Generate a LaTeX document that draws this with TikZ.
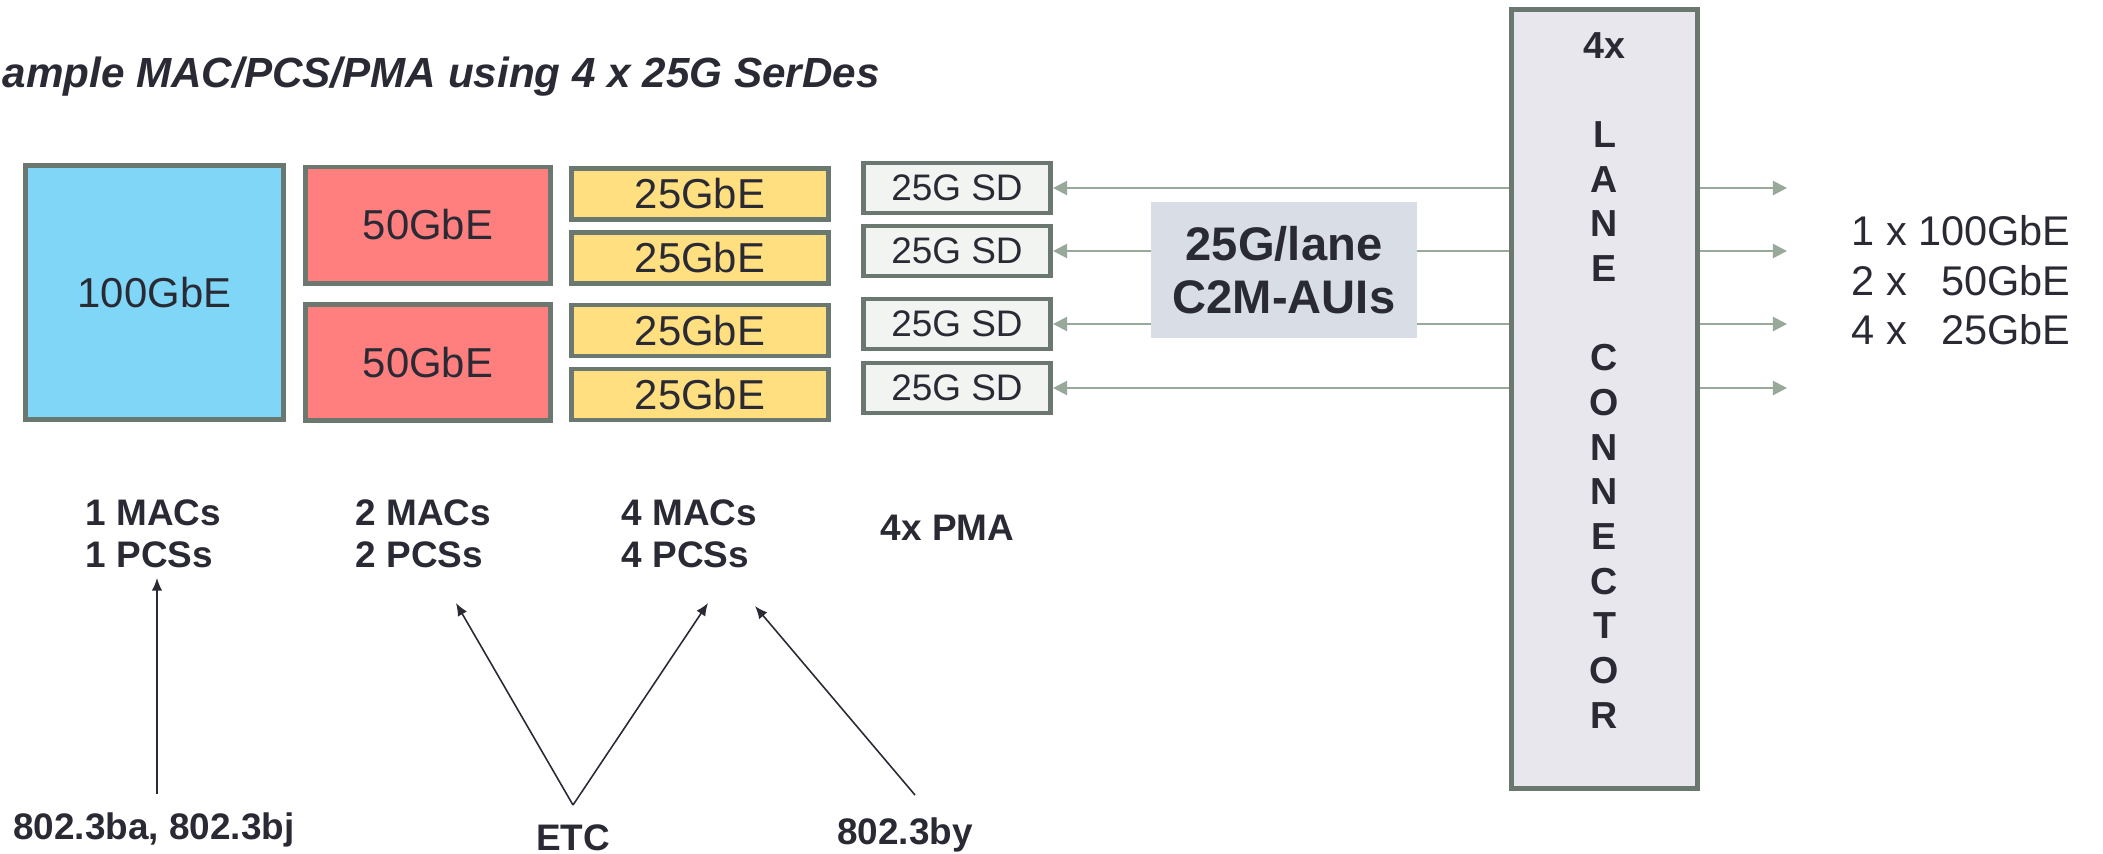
\documentclass[tikz,border=0pt]{standalone}
\usepackage{fontspec}
\setmainfont{Liberation Sans}
\usetikzlibrary{arrows.meta}

\definecolor{edgegray}{HTML}{6B786F}
\definecolor{inkdark}{HTML}{2A2A35}
\definecolor{macblue}{HTML}{80D6F7}
\definecolor{macred}{HTML}{FF7F7E}
\definecolor{macyellow}{HTML}{FFDF80}
\definecolor{sdwhite}{HTML}{F2F4F2}
\definecolor{connfill}{HTML}{E8E7ED}
\definecolor{auifill}{HTML}{D9DDE5}
\definecolor{lanegray}{HTML}{98A99C}

\begin{document}
\begin{tikzpicture}[x=0.01cm, y=-0.01cm,
  block/.style={draw=edgegray, line width=1.4pt, inner sep=0pt, text=inkdark, font=\fontsize{11.9}{14}\selectfont},
  fullmac/.style={block, fill=macblue, minimum width=2.58cm, minimum height=2.54cm},
  halfmac/.style={block, fill=macred, minimum width=2.45cm, minimum height=1.16cm},
  quartermac/.style={block, fill=macyellow, minimum width=2.57cm, minimum height=0.51cm},
  serdes/.style={block, fill=sdwhite, minimum width=1.87cm, minimum height=0.50cm, font=\fontsize{10.5}{12}\selectfont},
  connbox/.style={block, fill=connfill, minimum width=1.86cm, minimum height=7.79cm},
  auibox/.style={fill=auifill, inner sep=0pt, minimum width=2.66cm, minimum height=1.36cm, align=center, text=inkdark, font=\fontsize{13.4}{15}\selectfont\bfseries},
  lane/.style={draw=lanegray, line width=0.6pt},
  lanetip/.style={-{Triangle[length=4pt,width=4pt]}},
  pointer/.style={draw=inkdark, line width=0.45pt, -{Latex[length=3.6pt,width=3pt]}},
  caption/.style={inner sep=0pt, text=inkdark, font=\fontsize{10.5}{11.8}\selectfont\bfseries}
]
  \useasboundingbox (0,0) rectangle (2103,853);

  \node[anchor=base west, inner sep=0pt, text=inkdark, font=\fontsize{12}{14}\selectfont\bfseries\itshape] (title) at (2,87) {ample MAC/PCS/PMA using 4 x 25G SerDes};

  % MAC/PCS blocks
  \node[fullmac] (full) at (154.5,292.5) {100GbE};
  \node[halfmac] (half1) at (428,225) {50GbE};
  \node[halfmac] (half2) at (428,362.5) {50GbE};
  \foreach \i/\y in {1/194,2/258,3/330.5,4/394.5}
    \node[quartermac] (quarter\i) at (700,\y) {25GbE};

  % PMA and connector
  \foreach \i/\y in {1/188,2/251,3/324,4/388}
    \node[serdes] (sd\i) at (957,\y) {25G SD};
  \node[connbox] (conn) at (1604.5,399) {};
  \node[anchor=north, inner sep=0pt, align=center, text=inkdark, font=\fontsize{10.7}{12.7}\selectfont\bfseries] (connlbl) at (1604.5,31.5)
    {4x\\\mbox{}\\L\\A\\N\\E\\\mbox{}\\C\\O\\N\\N\\E\\C\\T\\O\\R};

  \foreach \i/\y in {1/188,2/251,3/324,4/388} {
    \coordinate (out\i) at (1787,\y);
    \draw[lane, lanetip] (conn.west |- sd\i.east) -- (sd\i.east);
    \draw[lane, lanetip] (conn.east |- out\i) -- (out\i);
  }

  \node[auibox] (aui) at (1284,270) {25G/lane\\C2M-AUIs};

  \node[anchor=center, inner sep=0pt, text=inkdark, font=\fontsize{11.8}{14.2}\selectfont] (rates) at (1961,285)
    {\begin{tabular}{@{}l@{\ }r@{}}1 x & 100GbE\\ 2 x & 50GbE\\ 4 x & 25GbE\end{tabular}};

  % counts under the blocks
  \node[caption, anchor=north west, align=left] (count1) at (85,499) {1 MACs\\1 PCSs};
  \node[caption, anchor=north west, align=left] (count2) at (355,499) {2 MACs\\2 PCSs};
  \node[caption, anchor=north west, align=left] (count4) at (621,499) {4 MACs\\4 PCSs};
  \node[caption, anchor=west] (pma) at (880,528) {4x PMA};

  % standards
  \node[caption, anchor=base] (ba) at (154,839) {802.3ba, 802.3bj};
  \node[caption, anchor=base] (etc) at (573,850) {ETC};
  \node[caption, anchor=base] (by) at (905,844) {802.3by};

  \coordinate (batail) at (157,794);
  \coordinate (bahead) at (157,578);
  \coordinate (etctail) at (573,805);
  \coordinate (etchead2) at (456,603);
  \coordinate (etchead4) at (708,603);
  \coordinate (bytail) at (915,795);
  \coordinate (byhead) at (755,606);

  \draw[pointer] (batail) -- (bahead);
  \draw[pointer] (etctail) -- (etchead2);
  \draw[pointer] (etctail) -- (etchead4);
  \draw[pointer] (bytail) -- (byhead);
\end{tikzpicture}
\end{document}
